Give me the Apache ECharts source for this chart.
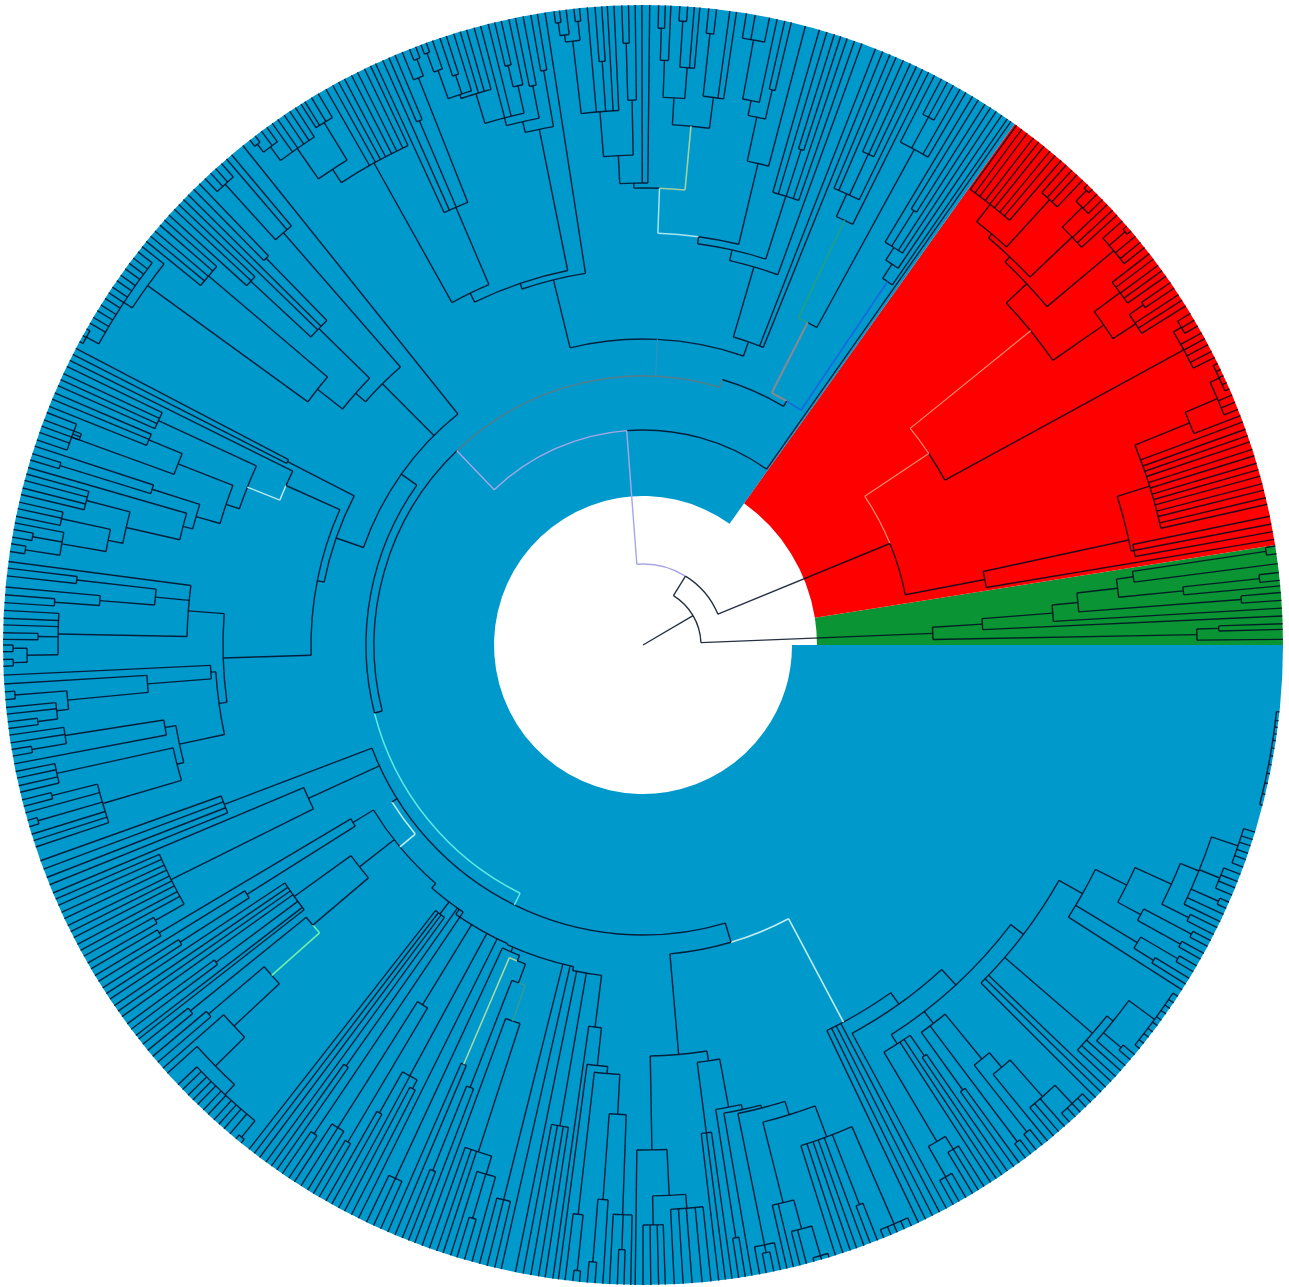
<!DOCTYPE html>
<html><head><meta charset="utf-8">
<style>html,body{margin:0;padding:0;background:#fff}#c{width:1289px;height:1287px}</style>
<script src="https://cdn.jsdelivr.net/npm/echarts@6/dist/echarts.min.js"></script>
</head><body><div id="c"></div>
<script>
// Clade sectors: [innerRadius, startAngle, outerRadius, endAngle, colourIndex]
const sectors = [[174,0,640,9,0],[174,9,640,54.5,1],[149,54.5,640,360,2]];
const sectorColours = ['#0a9433','#ff0000','#0099cc'];
const rim = 640;
const tints = ['rgba(0,12,35,.85)','#a9a6e6','#4d8090','#1a66e0','#808a92','#1f9e8a','#a8e4f0','#a0d0a0','#5ee8e0','#c0ecec','#70eea8','#ff8a70','#b0d8a0','#b8e8f4','#2e90c0','#3a9a98'];
const tintWidths = [1.4,1.4,1.6,1.6,2.2,1.8,1.5,1.6,1.5,1.6,1.6,1.2,1.5,1.5,1.2,1.4];

// Tree: [radius, child, child ...]; a plain number is a leaf angle; ['#',t,node] tints a branch; ['@',a,node] fixes where a branch joins.
const green = [290,[340,2.6,[411,3.3,[437,[600,4,4.7],[478,[543,5.3,[620,5.8,6.5]],[495,7.3,[630,8.2,8.9]]]]]],[554,0.5,[576,1.4,1.9]]];

const red531 = [531,12.7,13.3,14,14.6,15.3,15.9,16.5,17.2,17.8,18.5,19.1,19.7,20.4,[590,21,[625,21.6,22.3,23,[635,23.6,24.2,24.9,25.5,26.1]]]];
const red497 = ['@',12.2,[497,[500,10.2,10.9,11.6],red531]];
const red348 = [348,9.5,red497];
const red616 = [616,26.7,27.3,28,28.6,29.2,[625,29.9,30.5,31.2]];
const red593 = [593,35.2,35.8,36.4,37.1,37.7];
const red588 = [588,32,32.6,33.2,[605,33.9,34.5]];
const red561a = [561,red588,red593];
const red614 = [614,38.4,39,39.7,[635,40.3,40.9],41.5];
const red592 = [592,42.2,42.8,43.5,[620,44.1,44.8,[635,45.4,46]]];
const red603 = [603,46.6,47.3,47.9,48.6];
const red561b = [561,49.2,49.9,50.5,51.2,51.8,52.4,53.1,53.7,54.3];
const red539 = [539,red603,red561b];
const red534 = [534,red592,red539];
const red527 = [527,red614,red534];
const red499 = [499,red561a,red527];
const red344 = [344,red616,['#',11,red499]];
const red267 = [267,red348,['#',11,red344]];

const b438 = [438,55.3,[455,55.9,[470,56.5,57.1,[512,57.7,58.4],59]]];
const b565 = [565,59.7,60.3,[600,61,61.6,62.2],62.9];
const b470 = [470,63.5,[495,64.1,[540,64.7,65.3,66],66.7,67.3]];
const b362 = [362,b565,['#',5,b470]];
const b283 = [283,['#',3,b438],['#',4,b362]];
const r277 = ['@',73.4,[277,b283]];

const t471 = [471,70.7,71.4,[520,72,72.6],73.3,74];
const t495 = [495,[540,[555,[615,80.7,79.9,78.6],77.9],[570,77.2,76.6]],75.3];
const t548 = [548,[585,[617,88.6,88],87.5],[579,[625,86.7,86],85.4,84.9]];
const t552 = [552,[615,84.1,83.4],82.2,81.6];
const t521 = [521,t548,t552];
const t535 = [535,[608,[615,[628,98,97.5],96.9],[627,96.2,95.7]],95,[585,94.3,93.7],93.2,92.6];
const t462 = [462,[490,t535,[545,[602,91.9,91.3],90.7]],90.1,89.4];
const t457 = [457,['#',7,t521],t462];
const t412 = [412,t495,['#',6,t457]];
const t405 = [405,t471,t412];
const t394 = [394,70,t405];
const t321 = [321,68,68.7,t394];

const t576 = [576,105.3,106,106.6,[580,107.2,[600,107.9,108.5],[610,109.2,[630,109.8,110.3]]]];
const t545 = [545,[573,102.1,[595,102.8,103.4]],104,104.7,t576];
const t537 = [537,[570,101.5,100.8],t545];
const t526 = [526,[583,100.1,99.5],t537];
const t476 = [476,[610,[628,110.8,111.4],112.1],[570,112.8,113.4],114,114.7];
const t605 = [605,122.9,123.5,124.1,124.8,125.4,[622,126,126.6,[632,127.3,127.9]]];
const t568 = [568,t605,[612,120.5,121.2,121.9,122.3]];
const t552l = [552,115.2,115.8,116.5,117.1,117.8,118.4,119,119.7,t568];
const t392 = [392,t476,t552l];
const t382 = [382,t526,t392];
const t376 = [376,98.8,t382];
const t306 = [306,t321,t376];

const l547 = [547,[622,133.2,132.5,131.9,131.2],130.6,130];
const l453 = [453,[535,136.5,137.1,137.8],[540,133.9,134.6],135.3,135.9];
const l612 = [612,141.5,[622,142.1,142.8,143.4,144,144.7,145.3,146,146.6,147.2,147.9,148.5,149.2,149.8,[636,150.4,151.1,151.7]]];
const l414 = [414,[570,138.4,139,139.7,140.3,140.9],l612];
const l382 = [382,l453,l414];
const l369 = [369,l547,l382];
const l499 = [499,[535,156.8,157.4,158.1],[608,158.7,[600,159.4,160],160.6,161.3]];
const l530 = [530,[575,164.5,165.1,165.8,166.4],[545,[595,167.1,167.7,168.4],[590,169,[620,169.6,170.3],[625,170.9,171.6]]]];
const l475 = [475,163.9,l530];
const l465 = [465,[515,161.9,[610,162.6,163.2]],l475];
const l440 = [440,l499,l465];
const l426 = [426,[534,154.2,154.9,155.5,156.1],l440];
const l391 = [391,153.6,['#',13,l426]];
const l456 = [456,172.5,[490,[570,173.1,173.8],[545,174.8,[590,175.5,176.2]]],[585,176.9,177.6,178.2,[605,178.9,179.5],[616,[630,180,180.6],[630,181.3,181.9]]]];
const l497 = [497,183.5,[578,[630,184.2,184.9],[590,185.6,186.2,[610,186.9,187.5]]]];
const l433 = [433,182.7,l497];
const l485 = [485,[585,188.1,188.8,[620,189.4,190]],190.7];
const l481 = [481,[600,191.4,192,192.7,193.3],[563,[610,194,194.6],195.2,[630,195.9,196.5],197.2,197.8,198.4]];
const l474 = [474,l485,l481];
const l428 = [428,l433,l474];
const l420 = [420,l456,l428];
const l332 = [332,l391,l420];
const l325 = [325,[400,152.4,153],l332];
const l296 = [296,128.7,l369,l325];

const s448 = [448,199.7,200.5,201.3,202];
const s527 = [527,203.4,204,204.7,205.3,206,206.6,207.2,207.9,208.5,[560,209.1,209.8]];
const s368 = [368,202.8,s527];
const s340 = [340,[563,210.4,211.1],[468,211.7,[550,212.4,213]]];
const s430 = [430,213.6,214.3,214.9,215.5,[532,216.3,216.9],217.6,218];
const s614 = [614,223.4,224,224.7,225.3,225.9,226.6,227.2,227.9,228.5,229.1,229.8,[635,230.5,231.1]];
const s559 = [559,221.4,[600,222,s614]];
const s497 = [497,[570,220,220.7],s559];
const s433 = [433,[582,218.6,219.3],['#',10,s497]];
const s360 = [360,s430,s433];

const s470 = [470,[556,[619,265,265.7],266.4],[570,267,[605,267.7,268.3],268.9]];
const s430b = [430,[573,263,[629,263.7,264.3]],s470];
const s423 = [423,262.4,s430b];
const s385 = [385,261.9,s423];
const s333 = ['@',257.8,[333,258.5,[488,259.2,259.9,260.6,261.2],s385]];
const s533 = [533,250.5,251.2,251.8,[552,252.5,[598,253.1,253.8],254.5]];
const s360b = [360,[475,[566,247.9,248.5],249.1],['#',15,[398,249.8,s533]]];
const s340b = [340,['#',12,[456,246.5,247.2]],s360b];
const s334 = [334,[588,244.4,245.1,245.8],s340b];
const s329 = ['@',245.6,[329,s334,[572,255.2,255.9,256.6],257.2,s333]];
const s328 = ['@',235.2,[328,[422,[571,237,237.7,238.4],[578,239,239.6]],[490,[537,240.3,240.9],241.6,[500,242.2,242.9]],243.6,s329]];
const s322 = ['@',229,[322,[337,232,232.6,233.2,233.9],[515,234.5,235.1],[589,235.7,236.4],s328]];
const s316 = [316,s340,s360,s322];
const s296 = ['@',212,[296,['#',9,['@',219.7,s316]]]];

const u551 = [551,[580,270,270.7,271.4,272],[565,272.8,273.6,274.4,275.3,276.1]];
const u525 = [525,287.5,288.2,288.9,289.5,290.2,[600,290.8,291.5],[631,292.1,292.8,293.4,294.1,294.8]];
const u492 = [492,[575,283,283.6,[605,284.2,284.8,[636,285.5,286.2,286.9]]],u525];
const u478 = [478,[612,280.5,[620,281.1,281.8],282.4],u492];
const u475 = [475,279.8,u478];
const u470 = [470,[600,278.6,279.2],u475];
const u421 = [421,[492,276.8,277.4,278],u470];
const u411 = [411,[505,269.3,u551],u421];

const v473 = [473,[577,[612,299,299.6,300.3],[592,301,301.6,302.2]],302.9,303.5,[498,304.1,304.7]];
const v477 = [477,[548,305.4,306],[622,306.7,307.3],[535,[620,307.9,308.6],[554,309.2,[603,309.9,310.5,311.2,[628,311.8,312.5,313.1,313.8,314.4]]]]];
const v602 = [602,318.9,[625,319.6,320.2],[634,320.9,321.5,322.2,322.8,323.5,324.1,324.8,325.4,326,326.7]];
const v594 = [594,317,317.6,318.3,v602];
const v580 = [580,[610,333.1,333.8],[600,334.4,335.1,[630,335.7,336.3],[622,337,337.7,338.3,339],[628,339.7,340.4,341,341.7,342.3,343]]];
const v540 = [540,[566,[615,330.6,331.2],[620,331.9,332.5]],v580];
const v505 = [505,327.4,[577,[600,328,328.6],[620,329.3,329.9]],v540];
const v478 = [478,315,315.7,316.3,v594,v505];
const v462 = [462,v473,v477,v478];
const v441 = [441,298.3,v462];
const v427 = ['@',298,[427,295.5,296.2,296.9,297.6,v441]];
const u310 = [310,u411,['#',9,v427]];

const s290 = [290,s448,s368,s296,u310];
const n277 = [277,l296,['#',8,s290]];
const n269 = [269,['#',2,r277],['#',14,t306],n277];
const n215 = [215,54.9,['#',1,n269]];
const n81 = [81,red267,['#',1,n215]];
const treeRoot = [58,green,n81];
const rimFringe = [637,345.5,346.5,347.5,348.4,349.2,350,350.7,351.4,352,352.6,353.2,354];

const spokes = [], arcs = [];
function joinAngle(x){
  if (typeof x === 'number') return x;
  if (x[0] === '@') return x[1];
  if (x[0] === '#') return joinAngle(x[2]);
  const a = x.slice(1).map(joinAngle);
  return (Math.min.apply(null,a)+Math.max.apply(null,a))/2;
}
function walk(x, r0, tint){
  if (typeof x === 'number'){ spokes.push([r0,x,rim,tint]); return; }
  if (x[0] === '#'){ walk(x[2],r0,x[1]); return; }
  const at = joinAngle(x);
  if (x[0] === '@') x = x[2];
  const r = x[0], kids = x.slice(1);
  if (r !== r0) spokes.push([r0,at,r,tint]);
  let lo = null, hi = null;
  const tintOf = k => (typeof k !== 'number' && k[0] === '#') ? k[1] : 0;
  kids.forEach(k => {
    const a = joinAngle(k);
    if (a < at && (lo === null || a < lo[0])) lo = [a,tintOf(k)];
    if (a > at && (hi === null || a > hi[0])) hi = [a,tintOf(k)];
  });
  if (lo) arcs.push([r,lo[0],at,lo[1]]);
  if (hi) arcs.push([r,at,hi[0],hi[1]]);
  kids.forEach(k => walk(k,r,0));
}
walk(treeRoot,0,0);
walk(rimFringe,637,0);

function canvasAngle(p,cs){ return Math.atan2(p[1]-cs.cy,p[0]-cs.cx); }

const chart = echarts.init(document.getElementById('c'),null,{renderer:'canvas'});
chart.setOption({
  animation:false,
  backgroundColor:'#fff',
  polar:{center:[643,645],radius:640},
  radiusAxis:{min:0,max:640,show:false},
  angleAxis:{min:0,max:360,startAngle:0,clockwise:false,show:false},
  series:[
    {type:'custom',coordinateSystem:'polar',silent:true,clip:false,encode:{radius:0,angle:1},data:sectors,
     renderItem:function(p,api){
       const cs=p.coordSys;
       const a=api.coord([api.value(0),api.value(1)]), b=api.coord([api.value(2),api.value(3)]);
       const r0=Math.hypot(a[0]-cs.cx,a[1]-cs.cy), r1=Math.hypot(b[0]-cs.cx,b[1]-cs.cy);
       const a0=-api.value(1)*Math.PI/180, a1=-api.value(3)*Math.PI/180;
       return {type:'sector',shape:{cx:cs.cx,cy:cs.cy,r0:r0,r:r1,startAngle:a1,endAngle:a0,clockwise:true},
               style:{fill:sectorColours[api.value(4)]}};
     }},
    {type:'custom',coordinateSystem:'polar',silent:true,clip:false,encode:{radius:0,angle:1},data:arcs,
     renderItem:function(p,api){
       const cs=p.coordSys;
       const a=api.coord([api.value(0),api.value(1)]), b=api.coord([api.value(0),api.value(2)]);
       const r=Math.hypot(a[0]-cs.cx,a[1]-cs.cy);
       return {type:'arc',shape:{cx:cs.cx,cy:cs.cy,r:r,startAngle:canvasAngle(b,cs),endAngle:canvasAngle(a,cs),clockwise:true},
               style:{fill:null,stroke:tints[api.value(3)],lineWidth:tintWidths[api.value(3)]}};
     }},
    {type:'custom',coordinateSystem:'polar',silent:true,clip:false,encode:{radius:0,angle:1},data:spokes,
     renderItem:function(p,api){
       const a=api.coord([api.value(0),api.value(1)]), b=api.coord([api.value(2),api.value(1)]);
       return {type:'line',shape:{x1:a[0],y1:a[1],x2:b[0],y2:b[1]},
               style:{stroke:tints[api.value(3)],lineWidth:tintWidths[api.value(3)]}};
     }}
  ]
});
</script></body></html>
